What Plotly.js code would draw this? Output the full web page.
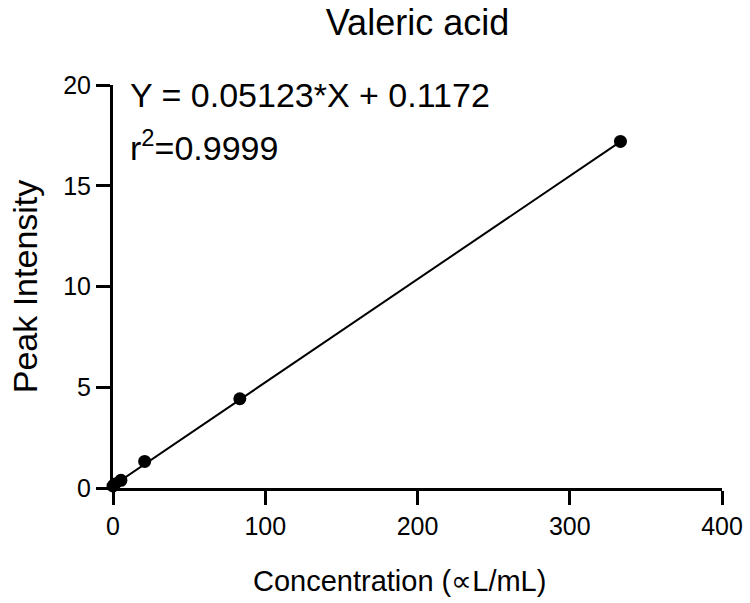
<!DOCTYPE html>
<html>
<head>
<meta charset="utf-8">
<script src="https://cdn.plot.ly/plotly-3.0.1.min.js"></script>
<style>html,body{margin:0;padding:0;background:#fff;}#chart{width:750px;height:603px;}</style>
</head>
<body>
<div id="chart"></div>
<script>
// Data
const concentration = [0, 1.3, 5.2, 20.8, 83.3, 333.3];
const peakIntensity = [0.1, 0.2, 0.38, 1.32, 4.43, 17.2];
// Fitted line endpoints (Y = 0.05123*X + 0.1172)
const fitX = [0, 333.3];
const fitY = [0.1172, 17.19];
const xTicks = [0, 100, 200, 300, 400];
const yTicks = [0, 5, 10, 15, 20];
const titleText = "Valeric acid";
const xTitle = "Concentration (\u221DL/mL)";
const yTitle = "Peak Intensity";
const eqText = "Y = 0.05123*X + 0.1172";
const r2Text = "r<sup>2</sup>=0.9999";

const FONT = "Liberation Sans, Arial, sans-serif";

const traces = [
  {x: fitX, y: fitY, mode: "lines", type: "scatter",
   line: {color: "#000", width: 2}, hoverinfo: "skip", cliponaxis: false},
  {x: concentration, y: peakIntensity, mode: "markers", type: "scatter",
   marker: {color: "#000", size: 13}, cliponaxis: false}
];

const axisCommon = {
  showgrid: false, zeroline: false, showline: true, linecolor: "#000", linewidth: 3,
  ticks: "outside", ticklen: 14, tickwidth: 3, tickcolor: "#000",
  tickfont: {family: FONT, size: 25, color: "#000"}
};

const layout = {
  width: 750, height: 603,
  margin: {l: 113, r: 28, t: 85, b: 115},
  paper_bgcolor: "#fff", plot_bgcolor: "#fff",
  showlegend: false,
  font: {family: FONT, color: "#000"},
  title: {text: titleText, font: {family: FONT, size: 36, color: "#000"},
          x: 0.5, xref: "paper", y: 0.963, yref: "container", yanchor: "middle"},
  xaxis: Object.assign({}, axisCommon, {
    range: [0, 400], tickvals: xTicks, ticktext: xTicks.map(String)
  }),
  yaxis: Object.assign({}, axisCommon, {
    range: [0, 20], tickvals: yTicks, ticktext: yTicks.map(String),
    ticklabelstandoff: 0,
    title: {text: yTitle, font: {family: FONT, size: 34, color: "#000"}, standoff: 16}
  }),
  annotations: [
    {text: xTitle, xref: "paper", yref: "paper", x: 0.226, y: -0.232, xanchor: "left", yanchor: "middle",
     showarrow: false, font: {family: FONT, size: 29, color: "#000"}},
    {text: eqText, xref: "paper", yref: "paper", x: 0.024, y: 0.975, xanchor: "left", yanchor: "middle",
     showarrow: false, font: {family: FONT, size: 34, color: "#000"}},
    {text: r2Text, xref: "paper", yref: "paper", x: 0.024, y: 0.85, xanchor: "left", yanchor: "middle",
     showarrow: false, font: {family: FONT, size: 34, color: "#000"}}
  ]
};

Plotly.newPlot("chart", traces, layout, {displayModeBar: false, staticPlot: true});
</script>
</body>
</html>
